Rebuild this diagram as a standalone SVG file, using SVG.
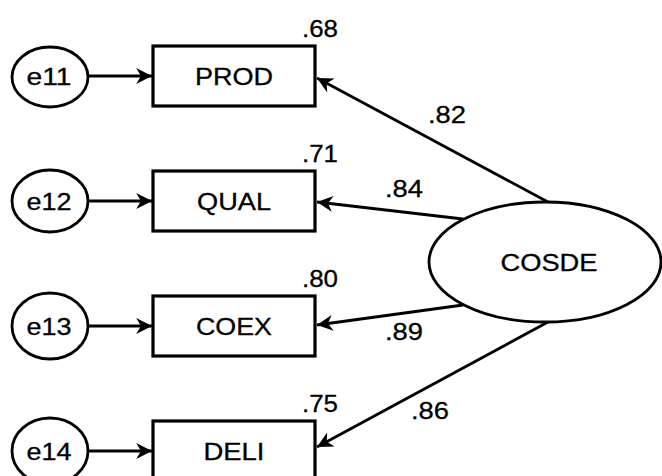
<svg xmlns="http://www.w3.org/2000/svg" width="662" height="476" viewBox="0 0 662 476">
  <style>
    .box { fill: #ffffff; stroke: #000000; stroke-width: 3.2; }
    .oval { fill: #ffffff; stroke: #000000; stroke-width: 2.8; }
    .path { stroke: #000000; stroke-width: 2.8; fill: none; marker-end: url(#head); }
    text { font-family: "Liberation Sans", Arial, sans-serif; font-size: 24px; fill: #000000; stroke: #000000; stroke-width: 0.3; }
    .mid { text-anchor: middle; }
  </style>
  <defs>
    <marker id="head" markerUnits="userSpaceOnUse" markerWidth="20" markerHeight="20"
            viewBox="-17 -9 19 18" refX="0" refY="0" orient="auto">
      <path d="M0,0 L-15,-7.5 L-10.5,0 L-15,7.5 z" fill="#000000"/>
    </marker>
  </defs>

  <rect width="662" height="476" fill="#ffffff"/>

  <!-- connectors: error terms to indicators, latent factor to indicators -->
  <g id="connectors">
    <line class="path" x1="87" y1="76" x2="152" y2="76"/>
    <line class="path" x1="87" y1="201" x2="152" y2="201"/>
    <line class="path" x1="87" y1="326" x2="152" y2="326"/>
    <line class="path" x1="87" y1="451" x2="152" y2="451"/>

    <line class="path" x1="548" y1="202" x2="317" y2="78"/>
    <line class="path" x1="463" y1="219" x2="317" y2="202"/>
    <line class="path" x1="463" y1="305" x2="317" y2="325"/>
    <line class="path" x1="548" y1="322" x2="317" y2="447"/>
  </g>

  <!-- standardized loadings -->
  <g id="loadings">
    <text x="428" y="123" textLength="38" lengthAdjust="spacingAndGlyphs">.82</text>
    <text x="385" y="197" textLength="38" lengthAdjust="spacingAndGlyphs">.84</text>
    <text x="385" y="340" textLength="38" lengthAdjust="spacingAndGlyphs">.89</text>
    <text x="411" y="419" textLength="38" lengthAdjust="spacingAndGlyphs">.86</text>
  </g>

  <!-- error terms -->
  <g id="e11">
    <ellipse class="oval" cx="50" cy="77" rx="38" ry="30"/>
    <text class="mid" x="49" y="85" textLength="45" lengthAdjust="spacingAndGlyphs">e11</text>
  </g>
  <g id="e12">
    <ellipse class="oval" cx="50" cy="201" rx="38" ry="31"/>
    <text class="mid" x="49" y="210" textLength="45" lengthAdjust="spacingAndGlyphs">e12</text>
  </g>
  <g id="e13">
    <ellipse class="oval" cx="50" cy="326" rx="38" ry="33"/>
    <text class="mid" x="49" y="335" textLength="45" lengthAdjust="spacingAndGlyphs">e13</text>
  </g>
  <g id="e14">
    <ellipse class="oval" cx="50" cy="451" rx="38" ry="33"/>
    <text class="mid" x="49" y="460" textLength="45" lengthAdjust="spacingAndGlyphs">e14</text>
  </g>

  <!-- observed indicators with squared multiple correlations -->
  <g id="PROD">
    <rect class="box" x="153" y="46" width="162" height="60"/>
    <text class="mid" x="234" y="85" textLength="78" lengthAdjust="spacingAndGlyphs">PROD</text>
    <text x="302" y="37" textLength="36" lengthAdjust="spacingAndGlyphs">.68</text>
  </g>
  <g id="QUAL">
    <rect class="box" x="153" y="171" width="162" height="60"/>
    <text class="mid" x="234" y="210" textLength="74" lengthAdjust="spacingAndGlyphs">QUAL</text>
    <text x="302" y="162" textLength="36" lengthAdjust="spacingAndGlyphs">.71</text>
  </g>
  <g id="COEX">
    <rect class="box" x="153" y="296" width="162" height="60"/>
    <text class="mid" x="234" y="335" textLength="76" lengthAdjust="spacingAndGlyphs">COEX</text>
    <text x="302" y="287" textLength="36" lengthAdjust="spacingAndGlyphs">.80</text>
  </g>
  <g id="DELI">
    <rect class="box" x="153" y="421" width="162" height="60"/>
    <text class="mid" x="234" y="460" textLength="61" lengthAdjust="spacingAndGlyphs">DELI</text>
    <text x="302" y="412" textLength="36" lengthAdjust="spacingAndGlyphs">.75</text>
  </g>

  <!-- latent factor -->
  <g id="COSDE">
    <ellipse class="oval" cx="545" cy="262" rx="116" ry="60"/>
    <text class="mid" x="549" y="271" textLength="97" lengthAdjust="spacingAndGlyphs">COSDE</text>
  </g>
</svg>
